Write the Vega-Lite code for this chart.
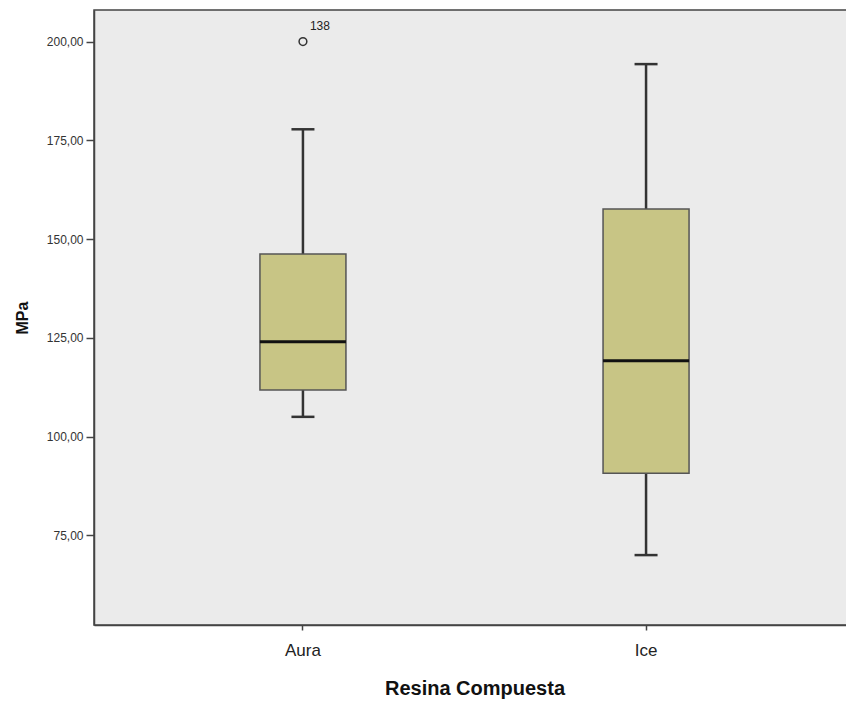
{
  "$schema": "https://vega.github.io/schema/vega-lite/v6.json",
  "width": 761,
  "height": 615,
  "autosize": {"type": "none"},
  "padding": {"left": 94, "top": 10, "right": 0, "bottom": 78},
  "background": "white",
  "config": {
    "font": "Liberation Sans",
    "view": {"fill": "#ebebeb", "stroke": "#444444", "strokeWidth": 1.5}
  },
  "datasets": {
    "boxes": [
      {"resina": "Aura", "lower": 105.0, "q1": 111.8, "median": 124.0, "q3": 146.2, "upper": 177.8},
      {"resina": "Ice", "lower": 70.0, "q1": 90.7, "median": 119.2, "q3": 157.6, "upper": 194.3}
    ],
    "outliers": [
      {"resina": "Aura", "value": 200.0, "caso": "138"}
    ]
  },
  "encoding": {
    "x": {
      "field": "resina",
      "type": "nominal",
      "sort": ["Aura", "Ice"],
      "scale": {"paddingInner": 0, "paddingOuter": 0.109},
      "axis": {
        "title": "Resina Compuesta",
        "titleFontSize": 20,
        "titleFontWeight": "bold",
        "titleColor": "#111111",
        "titlePadding": 20,
        "labelAngle": 0,
        "labelFontSize": 17,
        "labelColor": "#222222",
        "labelPadding": 12,
        "tickSize": 5,
        "tickColor": "#444444",
        "tickWidth": 1.5,
        "domainColor": "#444444",
        "domainWidth": 1.5,
        "grid": false
      }
    }
  },
  "layer": [
    {
      "data": {"name": "boxes"},
      "mark": {"type": "rule", "color": "#333333", "strokeWidth": 2.5},
      "encoding": {
        "y": {
          "field": "lower",
          "type": "quantitative",
          "scale": {"domain": [52.3, 208.0], "nice": false, "zero": false},
          "axis": {
            "title": "MPa",
            "titleFontSize": 16,
            "titleFontWeight": "bold",
            "titleColor": "#111111",
            "titlePadding": 16,
            "values": [75, 100, 125, 150, 175, 200],
            "labelExpr": "replace(format(datum.value, '.2f'), '.', ',')",
            "labelFontSize": 12,
            "labelColor": "#333333",
            "labelPadding": 3,
            "tickSize": 8,
            "tickColor": "#444444",
            "tickWidth": 1.5,
            "domainColor": "#444444",
            "domainWidth": 1.5,
            "grid": false
          }
        },
        "y2": {"field": "upper"}
      }
    },
    {
      "data": {"name": "boxes"},
      "mark": {"type": "bar", "width": 86, "fill": "#c8c585", "stroke": "#555555", "strokeWidth": 1.5},
      "encoding": {
        "y": {"field": "q1", "type": "quantitative"},
        "y2": {"field": "q3"}
      }
    },
    {
      "data": {"name": "boxes"},
      "mark": {"type": "tick", "size": 86, "thickness": 3, "color": "#111111", "opacity": 1},
      "encoding": {"y": {"field": "median", "type": "quantitative"}}
    },
    {
      "data": {"name": "boxes"},
      "mark": {"type": "tick", "size": 23, "thickness": 2.5, "color": "#333333", "opacity": 1},
      "encoding": {"y": {"field": "lower", "type": "quantitative"}}
    },
    {
      "data": {"name": "boxes"},
      "mark": {"type": "tick", "size": 23, "thickness": 2.5, "color": "#333333", "opacity": 1},
      "encoding": {"y": {"field": "upper", "type": "quantitative"}}
    },
    {
      "data": {"name": "outliers"},
      "mark": {"type": "point", "shape": "circle", "filled": false, "size": 60, "stroke": "#333333", "strokeWidth": 1.5, "opacity": 1},
      "encoding": {"y": {"field": "value", "type": "quantitative"}}
    },
    {
      "data": {"name": "outliers"},
      "mark": {"type": "text", "dx": 17, "dy": -16, "fontSize": 12, "color": "#222222"},
      "encoding": {
        "y": {"field": "value", "type": "quantitative"},
        "text": {"field": "caso"}
      }
    }
  ]
}
